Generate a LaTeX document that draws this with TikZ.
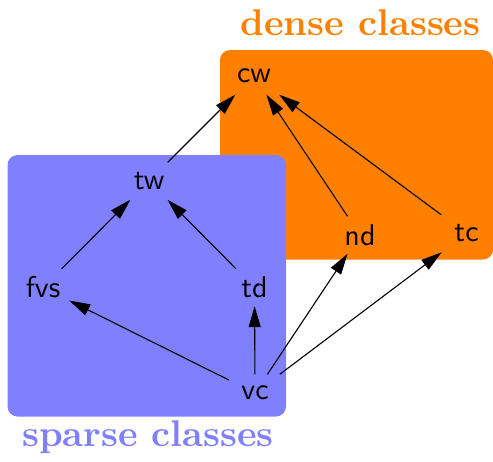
\documentclass[tikz,border=0pt]{standalone}
\usepackage{fontspec}
\usetikzlibrary{arrows.meta}
\newfontfamily\classfont{lmsans10-regular.otf}
\newfontfamily\titlefont{lmroman10-bold.otf}
\definecolor{denseorange}{HTML}{FF8000}
\definecolor{sparseblue}{HTML}{8080FF}
\begin{document}
\begin{tikzpicture}[x=1pt,y=-1pt,
  cls/.style={font=\fontsize{30}{33}\classfont,inner sep=0pt,
    minimum width=52pt,minimum height=37pt},
  region/.style={rounded corners=10pt},
  title/.style={anchor=base,font=\fontsize{37.2}{42}\titlefont},
  edge/.style={line width=1.1pt,-{Triangle[length=21pt,width=12pt]}}]
\useasboundingbox (0,0) rectangle (493,461);
% class regions
\fill[denseorange,region] (220,50) rectangle (493,259.5);
\fill[sparseblue,region] (7.5,155) rectangle (286,416.5);
\node[title,text=denseorange] (densetitle) at (360.5,35) {dense classes};
\node[title,text=sparseblue] (sparsetitle) at (148,446) {sparse classes};
% parameters
\node[cls] (cw) at (254,76) {cw};
\node[cls] (tw) at (149,181) {tw};
\node[cls] (fvs) at (43,287.5) {fvs};
\node[cls] (td) at (254.5,287.5) {td};
\node[cls] (vc) at (255,393) {vc};
\node[cls] (nd) at (360,235) {nd};
\node[cls] (tc) at (466.5,233.5) {tc};
% bounds
\draw[edge] (tw) -- (cw);
\draw[edge] (nd) -- (cw);
\draw[edge] (tc) -- (cw);
\draw[edge] (fvs) -- (tw);
\draw[edge] (td) -- (tw);
\draw[edge] (vc) -- (fvs);
\draw[edge] (vc) -- (td);
\draw[edge] (vc) -- (nd);
\draw[edge] (vc) -- (tc);
\end{tikzpicture}
\end{document}
